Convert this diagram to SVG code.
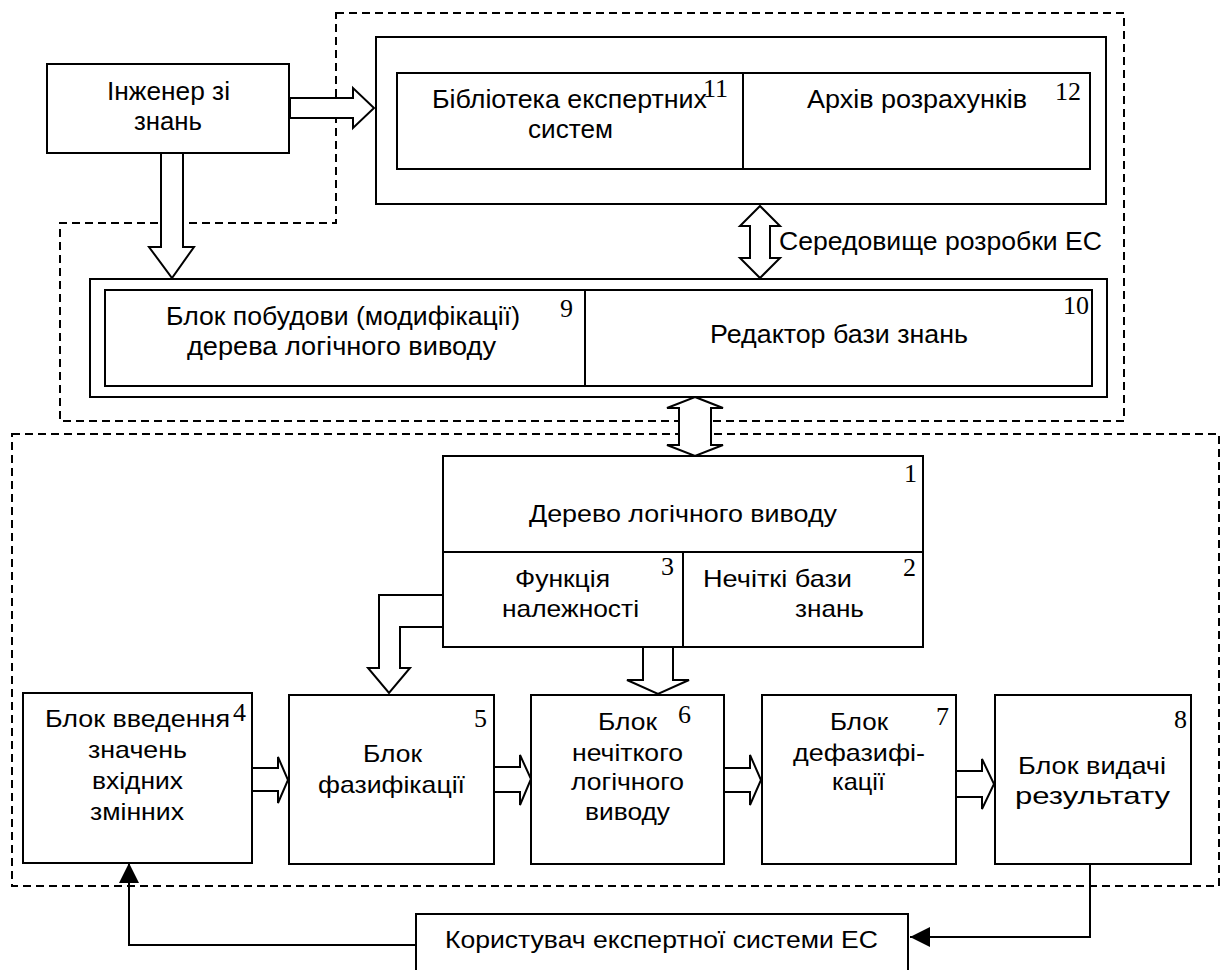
<svg xmlns="http://www.w3.org/2000/svg" width="1221" height="970" viewBox="0 0 1221 970">
<style>
.bx{fill:#fff;stroke:#000;stroke-width:2}
.ln{fill:none;stroke:#000;stroke-width:2}
.ds{fill:none;stroke:#000;stroke-width:2;stroke-dasharray:8 5}
.ba{fill:#fff;stroke:#000;stroke-width:2;stroke-linejoin:miter}
.t{font-family:"Liberation Sans",Arial,sans-serif;font-size:24px;fill:#000}
.tt{font-family:"Liberation Sans",Arial,sans-serif;font-size:25px;fill:#000}
.n{font-family:"Liberation Serif","Times New Roman",serif;font-size:26px;fill:#000}
</style>
<defs>
<marker id="ah" viewBox="0 0 20 20" refX="20" refY="10" markerWidth="20" markerHeight="20" markerUnits="userSpaceOnUse" orient="auto">
<path d="M0,0 L20,10 L0,20 Z" fill="#000"/>
</marker>
</defs>
<rect width="1221" height="970" fill="#fff"/>

<g id="regions">
<path class="ds" d="M336,13 H1124 V421 H60 V223 H336 Z"/>
<rect class="ds" x="12" y="434" width="1207" height="452"/>
</g>

<g id="node-engineer">
<rect class="bx" x="47" y="64" width="242" height="89"/>
<text class="tt" x="107" y="100" textLength="123" lengthAdjust="spacingAndGlyphs">Інженер зі</text>
<text class="tt" x="134" y="130" textLength="68" lengthAdjust="spacingAndGlyphs">знань</text>
</g>

<g id="node-dev-env-top">
<rect class="bx" x="376" y="37" width="730" height="167"/>
</g>
<g id="node-11">
<rect class="bx" x="397" y="73" width="346" height="96"/>
<text class="tt" x="432" y="108" textLength="275" lengthAdjust="spacingAndGlyphs">Бібліотека експертних</text>
<text class="tt" x="528" y="138" textLength="85" lengthAdjust="spacingAndGlyphs">систем</text>
<text class="n" x="703" y="97">11</text>
</g>
<g id="node-12">
<rect class="bx" x="743" y="73" width="347" height="96"/>
<text class="tt" x="807" y="108" textLength="220" lengthAdjust="spacingAndGlyphs">Архів розрахунків</text>
<text class="n" x="1055" y="100">12</text>
</g>

<g id="label-env">
<text class="tt" x="779" y="250" textLength="323" lengthAdjust="spacingAndGlyphs">Середовище розробки ЕС</text>
</g>

<g id="node-dev-env-mid">
<rect class="bx" x="90" y="279" width="1017" height="118"/>
</g>
<g id="node-9">
<rect class="bx" x="105" y="290" width="480" height="96"/>
<text class="tt" x="166" y="325" textLength="354" lengthAdjust="spacingAndGlyphs">Блок побудови (модифікації)</text>
<text class="tt" x="187" y="355" textLength="309" lengthAdjust="spacingAndGlyphs">дерева логічного виводу</text>
<text class="n" x="560" y="317">9</text>
</g>
<g id="node-10">
<rect class="bx" x="585" y="290" width="507" height="96"/>
<text class="tt" x="710" y="343" textLength="258" lengthAdjust="spacingAndGlyphs">Редактор бази знань</text>
<text class="n" x="1063" y="314">10</text>
</g>

<g id="node-1">
<rect class="bx" x="443" y="456" width="480" height="96"/>
<text class="t" x="529" y="522" textLength="308" lengthAdjust="spacingAndGlyphs">Дерево логічного виводу</text>
<text class="n" x="904" y="482">1</text>
</g>
<g id="node-3">
<rect class="bx" x="443" y="552" width="240" height="95"/>
<text class="t" x="515" y="587" textLength="95" lengthAdjust="spacingAndGlyphs">Функція</text>
<text class="t" x="502" y="617" textLength="137" lengthAdjust="spacingAndGlyphs">належності</text>
<text class="n" x="661" y="575">3</text>
</g>
<g id="node-2">
<rect class="bx" x="683" y="552" width="240" height="95"/>
<text class="t" x="703" y="587" textLength="149" lengthAdjust="spacingAndGlyphs">Нечіткі бази</text>
<text class="t" x="795" y="617" textLength="69" lengthAdjust="spacingAndGlyphs">знань</text>
<text class="n" x="903" y="576">2</text>
</g>

<g id="node-4">
<rect class="bx" x="23" y="693" width="229" height="170"/>
<text class="t" x="45" y="727" textLength="185" lengthAdjust="spacingAndGlyphs">Блок введення</text>
<text class="t" x="88" y="758" textLength="99" lengthAdjust="spacingAndGlyphs">значень</text>
<text class="t" x="92" y="789" textLength="91" lengthAdjust="spacingAndGlyphs">вхідних</text>
<text class="t" x="90" y="820" textLength="94" lengthAdjust="spacingAndGlyphs">змінних</text>
<text class="n" x="233" y="721">4</text>
</g>
<g id="node-5">
<rect class="bx" x="289" y="695" width="205" height="169"/>
<text class="t" x="363" y="762" textLength="59" lengthAdjust="spacingAndGlyphs">Блок</text>
<text class="t" x="318" y="793" textLength="147" lengthAdjust="spacingAndGlyphs">фазифікації</text>
<text class="n" x="474" y="727">5</text>
</g>
<g id="node-6">
<rect class="bx" x="531" y="695" width="193" height="169"/>
<text class="t" x="598" y="730" textLength="59" lengthAdjust="spacingAndGlyphs">Блок</text>
<text class="t" x="572" y="761" textLength="111" lengthAdjust="spacingAndGlyphs">нечіткого</text>
<text class="t" x="571" y="790" textLength="113" lengthAdjust="spacingAndGlyphs">логічного</text>
<text class="t" x="585" y="820" textLength="85" lengthAdjust="spacingAndGlyphs">виводу</text>
<text class="n" x="678" y="723">6</text>
</g>
<g id="node-7">
<rect class="bx" x="762" y="695" width="194" height="169"/>
<text class="t" x="830" y="730" textLength="58" lengthAdjust="spacingAndGlyphs">Блок</text>
<text class="t" x="793" y="761" textLength="132" lengthAdjust="spacingAndGlyphs">дефазифі-</text>
<text class="t" x="832" y="790" textLength="53" lengthAdjust="spacingAndGlyphs">кації</text>
<text class="n" x="936" y="725">7</text>
</g>
<g id="node-8">
<rect class="bx" x="995" y="695" width="196" height="169"/>
<text class="t" x="1018" y="774" textLength="148" lengthAdjust="spacingAndGlyphs">Блок видачі</text>
<text class="t" x="1015" y="804" textLength="155" lengthAdjust="spacingAndGlyphs">результату</text>
<text class="n" x="1174" y="728">8</text>
</g>

<g id="node-user">
<rect class="bx" x="416" y="914" width="492" height="70"/>
<text class="t" x="445" y="948" textLength="433" lengthAdjust="spacingAndGlyphs">Користувач експертної системи ЕС</text>
</g>

<g id="connectors">
<polygon class="ba" points="290,98 353,98 353,88 374,108 353,128 353,118 290,118"/>
<polygon class="ba" points="161,153 161,247 149,247 172,278 194,247 183,247 183,153"/>
<polygon class="ba" points="760,206 780,226 770,226 770,258 780,258 760,278 740,258 750,258 750,226 740,226"/>
<polygon class="ba" points="695,397 723,408 711,408 711,445 723,445 695,456 667,445 679,445 679,408 667,408"/>
<polygon class="ba" points="643,647 643,680 627,680 658,694 689,680 673,680 673,647"/>
<polygon class="ba" points="443,595 379,595 379,668 368,668 389,693 410,668 400,668 400,627 443,627"/>
<polygon class="ba" points="252,768 278,768 278,757 288,780 278,803 278,791 252,791"/>
<polygon class="ba" points="494,767 520,767 520,755 531,779 520,805 520,792 494,792"/>
<polygon class="ba" points="724,768 750,768 750,755 761,780 750,805 750,792 724,792"/>
<polygon class="ba" points="956,771 982,771 982,759 994,784 982,809 982,797 956,797"/>
<path class="ln" d="M1090,864 V937 H910" marker-end="url(#ah)"/>
<path class="ln" d="M416,945 H129 V863" marker-end="url(#ah)"/>
</g>
</svg>
